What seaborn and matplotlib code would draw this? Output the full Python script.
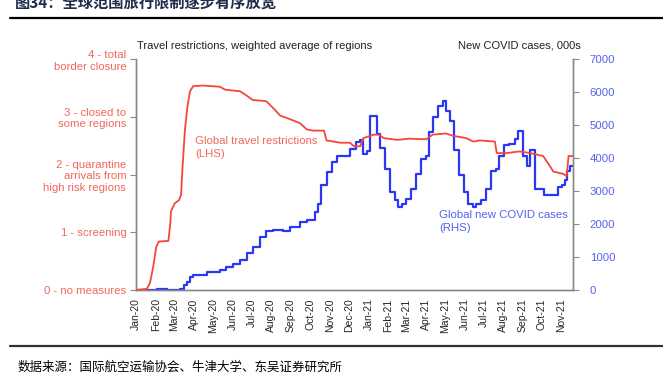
import matplotlib
matplotlib.use("Agg")
import matplotlib.pyplot as plt
import matplotlib.dates as mdates
import pandas as pd
import seaborn as sns

# travel restrictions index (0-4)
tr_dates = ["2020-01-01", "2020-01-18", "2020-01-23", "2020-01-28", "2020-02-02", "2020-02-06",
            "2020-02-21", "2020-02-24", "2020-02-25", "2020-03-02", "2020-03-09", "2020-03-12",
            "2020-03-14", "2020-03-18", "2020-03-22", "2020-03-26", "2020-03-31", "2020-04-16",
            "2020-05-12", "2020-05-20", "2020-06-13", "2020-06-24", "2020-07-03", "2020-07-24",
            "2020-08-04", "2020-08-15", "2020-08-30", "2020-09-15", "2020-09-26", "2020-10-06",
            "2020-10-23", "2020-10-27", "2020-11-18", "2020-12-03", "2020-12-09", "2020-12-19",
            "2020-12-24", "2021-01-09", "2021-01-17", "2021-01-25", "2021-02-15", "2021-03-06",
            "2021-04-02", "2021-04-12", "2021-05-03", "2021-05-14", "2021-06-04", "2021-06-15",
            "2021-06-25", "2021-07-19", "2021-07-22", "2021-08-06", "2021-08-27", "2021-09-13",
            "2021-10-03", "2021-10-14", "2021-10-19", "2021-11-04", "2021-11-09", "2021-11-12",
            "2021-11-19"]
tr_values = [0.0, 0.02, 0.12, 0.40, 0.75, 0.84,
             0.85, 1.15, 1.36, 1.50, 1.56, 1.65,
             2.08, 2.77, 3.18, 3.44, 3.53, 3.54,
             3.52, 3.47, 3.44, 3.36, 3.29, 3.27,
             3.15, 3.02, 2.96, 2.89, 2.78, 2.76,
             2.76, 2.59, 2.55, 2.55, 2.49, 2.49,
             2.63, 2.69, 2.69, 2.63, 2.60, 2.62,
             2.61, 2.69, 2.71, 2.67, 2.63, 2.57,
             2.59, 2.57, 2.37, 2.37, 2.40, 2.37,
             2.32, 2.14, 2.05, 2.01, 1.97, 2.32,
             2.32]

# global new covid cases, 000s (weekly steps)
cs_dates = ["2020-01-01", "2020-02-03", "2020-02-19", "2020-03-11", "2020-03-16", "2020-03-21",
            "2020-03-26", "2020-03-31", "2020-04-21", "2020-05-12", "2020-05-22", "2020-06-02",
            "2020-06-13", "2020-06-24", "2020-07-03", "2020-07-14", "2020-07-24", "2020-08-04",
            "2020-08-20", "2020-08-30", "2020-09-15", "2020-09-26", "2020-10-09", "2020-10-14",
            "2020-10-19", "2020-10-27", "2020-11-04", "2020-11-12", "2020-12-03", "2020-12-13",
            "2020-12-19", "2020-12-23", "2020-12-29", "2021-01-04", "2021-01-14", "2021-01-19",
            "2021-01-27", "2021-02-04", "2021-02-12", "2021-02-17", "2021-02-22", "2021-03-01",
            "2021-03-09", "2021-03-17", "2021-03-25", "2021-04-02", "2021-04-07", "2021-04-12",
            "2021-04-20", "2021-04-28", "2021-05-03", "2021-05-09", "2021-05-16", "2021-05-24",
            "2021-06-01", "2021-06-06", "2021-06-14", "2021-06-19", "2021-06-27", "2021-07-05",
            "2021-07-13", "2021-07-21", "2021-07-26", "2021-08-03", "2021-08-11", "2021-08-19",
            "2021-08-24", "2021-09-02", "2021-09-07", "2021-09-12", "2021-09-20", "2021-10-05",
            "2021-10-26", "2021-11-01", "2021-11-06", "2021-11-09", "2021-11-14", "2021-11-19"]
cs_values = [0, 20, 0, 30, 150, 250,
             400, 460, 550, 600, 700, 800,
             900, 1130, 1300, 1600, 1800, 1820,
             1800, 1900, 2060, 2110, 2360, 2600,
             3170, 3570, 3870, 4070, 4280, 4480,
             4550, 4120, 4200, 5280, 4730, 4300,
             3670, 2970, 2720, 2520, 2620, 2770,
             3070, 3520, 3970, 4070, 4780, 5230,
             5580, 5730, 5430, 5130, 4230, 3470,
             2970, 2620, 2520, 2620, 2720, 3070,
             3620, 3670, 4070, 4400, 4420, 4580,
             4830, 4070, 3770, 4230, 3070, 2870,
             3120, 3170, 3320, 3620, 3770, 3770]

level_labels = ["0 - no measures", "1 - screening",
                "2 - quarantine\narrivals from\nhigh risk regions",
                "3 - closed to\nsome regions", "4 - total\nborder closure"]

RED = "#f4473a"
RED_TXT = "#f2675c"
BLUE = "#2b36f6"
BLUE_TXT = "#5562f3"

sns.set_style("white")
plt.rcParams["font.family"] = ["Liberation Sans", "DejaVu Sans"]

tr = pd.DataFrame({"date": pd.to_datetime(tr_dates), "level": tr_values})
cs = pd.DataFrame({"date": pd.to_datetime(cs_dates), "cases": cs_values})

fig = plt.figure(figsize=(6.63, 3.81), dpi=100)
ax = fig.add_axes([136 / 663, 1 - 290 / 381, 437 / 663, 231 / 381])
ax2 = ax.twinx()

sns.lineplot(data=tr, x="date", y="level", ax=ax, color=RED, lw=1.3, zorder=3)
sns.lineplot(data=cs, x="date", y="cases", ax=ax2, color=BLUE, lw=1.6,
             drawstyle="steps-post")
ax.set_zorder(ax2.get_zorder() + 1)
ax.patch.set_visible(False)

ax.set_ylim(0, 4)
ax2.set_ylim(0, 7000)
ax.set_xlim(pd.Timestamp("2020-01-01"), pd.Timestamp("2021-11-19"))

ax.set_yticks(range(5))
ax.set_yticklabels(level_labels, color=RED_TXT, fontsize=8.2, multialignment="right")
ax2.set_yticks(range(0, 7001, 1000))
ax2.set_yticklabels([str(v) for v in range(0, 7001, 1000)], color=BLUE_TXT, fontsize=8.2)

ax.xaxis.set_major_locator(mdates.MonthLocator())
ax.xaxis.set_major_formatter(mdates.DateFormatter("%b-%y"))
ax.tick_params(axis="x", rotation=90, labelsize=7.5, length=4, color="#888888", pad=2)
ax.tick_params(axis="y", length=4, color="#888888", pad=3)
ax2.tick_params(axis="y", length=4, color="#888888", pad=8)

for a in (ax, ax2):
    a.set_xlabel("")
    a.set_ylabel("")
    a.spines["top"].set_visible(False)
    for s in ("left", "right", "bottom"):
        a.spines[s].set_color("#888888")
        a.spines[s].set_linewidth(1.0)

ax.text(0.135, 0.665, "Global travel restrictions\n(LHS)", transform=ax.transAxes,
        color=RED_TXT, fontsize=8.2, va="top", linespacing=1.3)
ax2.text(0.693, 0.345, "Global new COVID cases\n(RHS)", transform=ax.transAxes,
         color=BLUE_TXT, fontsize=8.2, va="top", linespacing=1.3)

fig.text(137 / 663, 1 - 46 / 381, "Travel restrictions, weighted average of regions",
         fontsize=8, color="#222222", va="center")
fig.text(581 / 663, 1 - 45 / 381, "New COVID cases, 000s",
         fontsize=8, color="#222222", va="center", ha="right")

fig.text(15 / 663, 1 - 3 / 381, "图34：全球范围旅行限制逐步有序放宽", fontsize=11,
         fontweight="bold", color="#1f2d4a", va="center",
         family=["Noto Sans CJK SC", "DejaVu Sans"])
fig.add_artist(plt.Line2D([10 / 663, 1], [1 - 18 / 381] * 2, color="black", lw=1.6))
fig.add_artist(plt.Line2D([10 / 663, 1], [1 - 346 / 381] * 2, color="#333333", lw=1.6))
fig.text(18 / 663, 1 - 367 / 381, "数据来源：国际航空运输协会、牛津大学、东吴证券研究所",
         fontsize=9, color="black", va="center",
         family=["Noto Sans CJK SC", "DejaVu Sans"])

fig.savefig("out.png", dpi=100)
